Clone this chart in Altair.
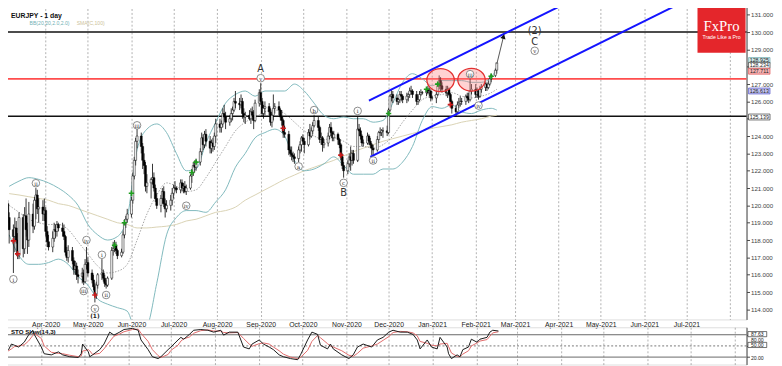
import altair as alt
import pandas as pd

# ---------------- text ----------------
TITLE = "EURJPY - 1 day"
BB_NAME = "BB(20,20,2.0,2.0)"
SMA_NAME = "SMA(C,100)"
STO_NAME = "STO Slow(14,3)"
LOGO_NAME = "FxPro"
LOGO_SLOGAN = "Trade Like a Pro"

# ---------------- daily candles (O H L C), one string per week, Mon..Fri ----------------
first_session = "2020-03-02"
ohlc_weeks = [
    "119.9 120.6 119.2 120.1, 120.1 121.0 119.8 120.4, 120.4 120.6 119.8 120.1, 120.1 120.3 119.0 119.3, 119.3 119.6 117.8 118.6",
    "118.6 118.9 116.1 118.2, 118.2 119.3 117.3 118.7, 118.7 119.1 117.8 118.0, 118.0 118.4 116.9 117.1, 117.1 119.6 116.9 119.3",
    "119.3 119.5 117.0 117.5, 117.5 119.9 117.2 119.4, 119.4 120.4 118.2 118.6, 118.6 119.0 117.2 118.0, 118.0 120.2 117.6 119.5",
    "119.5 120.1 118.4 118.8, 118.8 120.5 118.6 120.3, 120.3 121.0 119.2 120.6, 120.6 120.9 119.5 119.8, 119.8 120.4 119.0 119.9",
    "119.9 120.3 119.1 119.5, 119.5 120.4 119.1 119.7, 119.7 119.9 118.2 118.5, 118.5 118.8 117.6 117.9, 117.9 118.3 117.4 117.6",
    "117.6 118.5 117.3 118.1, 118.1 119.0 117.9 118.6, 118.6 118.9 118.1 118.5, 118.5 119.1 118.2 118.9, 118.9 119.0 118.5 118.7",
    "118.7 119.0 118.2 118.5, 118.5 118.9 118.0 118.2, 118.2 118.3 117.1 117.3, 117.3 117.6 116.8 117.0, 117.0 117.7 116.7 117.4",
    "117.4 117.6 116.6 116.8, 116.8 117.0 116.0 116.3, 116.3 116.8 116.0 116.5, 116.5 116.7 115.7 116.0, 116.0 116.3 115.5 115.9",
    "115.9 116.4 115.5 116.1, 116.1 116.3 115.4 115.6, 115.6 116.9 115.5 116.6, 116.6 117.6 116.3 116.7, 116.7 117.0 115.9 116.1",
    "116.1 116.3 115.5 115.7, 115.7 116.0 115.1 115.3, 115.3 115.5 114.4 114.9, 114.9 115.6 114.6 115.4, 115.4 116.1 115.2 116.0",
    "116.0 116.9 115.7 116.1, 116.1 116.3 115.6 115.8, 115.8 116.0 115.3 115.5, 115.5 115.7 115.2 115.4, 115.4 115.9 115.3 115.8",
    "115.8 117.6 115.7 117.4, 117.4 117.9 117.1 117.5, 117.5 118.0 117.3 117.7, 117.7 117.9 117.2 117.4, 117.4 117.5 116.9 117.1",
    "117.1 117.5 117.0 117.3, 117.3 118.5 117.2 118.3, 118.3 119.2 118.1 119.0, 119.0 119.4 118.7 119.2, 119.2 119.8 119.0 119.5",
    "119.5 120.5 119.3 120.3, 120.3 121.9 120.1 121.7, 121.7 122.8 121.5 122.6, 122.6 123.9 122.3 123.7, 123.7 124.4 123.3 124.0",
    "124.0 124.2 123.0 123.4, 123.4 123.6 122.1 122.6, 122.6 123.0 121.8 122.3, 122.3 122.5 120.8 121.1, 121.1 121.8 120.7 121.3",
    "121.3 121.6 120.4 121.5, 121.5 122.4 121.2 121.6, 121.6 121.9 120.8 121.0, 121.0 121.2 120.2 120.4, 120.4 120.7 119.8 120.0",
    "120.0 120.6 119.6 120.4, 120.4 121.0 120.1 120.8, 120.8 121.1 119.9 120.1, 120.1 120.4 119.3 119.8, 119.8 120.3 119.6 120.0",
    "120.0 120.6 119.7 120.3, 120.3 121.0 120.0 120.7, 120.7 121.2 120.4 121.0, 121.0 121.4 120.8 121.0, 121.0 121.1 120.7 120.9",
    "120.9 121.5 120.7 121.3, 121.3 121.5 120.8 121.0, 121.0 121.3 120.7 121.1, 121.1 121.4 120.7 120.8, 120.8 121.2 120.6 121.0",
    "121.0 121.8 120.9 121.7, 121.7 122.1 121.3 121.9, 121.9 122.5 121.7 122.3, 122.3 122.6 121.9 122.2, 122.2 122.7 122.0 122.5",
    "122.5 123.3 122.3 123.1, 123.1 124.2 122.9 123.9, 123.9 124.1 123.2 123.5, 123.5 124.3 123.3 124.1, 124.1 124.4 123.4 123.7",
    "123.7 124.0 123.0 123.3, 123.3 123.8 123.0 123.6, 123.6 123.9 123.1 123.4, 123.4 124.2 123.2 124.0, 124.0 125.0 123.6 124.7",
    "124.7 125.0 124.2 124.5, 124.5 124.9 124.2 124.7, 124.7 125.6 124.5 125.3, 125.3 125.8 124.9 125.1, 125.1 125.4 124.4 124.8",
    "124.8 125.2 124.6 125.0, 125.0 125.6 124.8 125.3, 125.3 125.7 124.9 125.5, 125.5 126.2 125.4 126.0, 126.0 126.6 125.6 125.9",
    "125.9 126.2 125.5 125.8, 125.8 126.4 125.6 126.0, 126.0 126.2 125.0 125.3, 125.3 125.6 124.8 125.1, 125.1 125.4 124.7 125.2",
    "125.2 125.5 124.9 125.0, 125.0 125.6 124.7 125.4, 125.4 125.7 124.9 125.2, 125.2 125.5 124.4 124.9, 124.9 126.1 124.8 125.9",
    "125.9 126.7 125.7 126.5, 126.5 127.05 125.8 126.0, 126.0 126.2 125.1 125.3, 125.3 125.8 125.0 125.6, 125.6 126.0 125.2 125.7",
    "125.7 125.9 125.2 125.4, 125.4 125.6 124.6 124.8, 124.8 125.3 124.5 125.2, 125.2 126.4 124.9 125.6, 125.6 125.9 125.3 125.7",
    "125.7 126.0 125.2 125.5, 125.5 125.6 124.9 125.1, 125.1 125.5 124.6 124.9, 124.9 125.0 123.9 124.2, 124.2 124.6 123.9 124.1",
    "124.1 124.3 122.9 123.2, 123.2 123.4 122.8 123.0, 123.0 123.4 122.6 122.9, 122.9 123.1 122.5 122.8, 122.8 123.0 122.4 122.7",
    "122.7 123.4 122.5 123.2, 123.2 123.7 123.0 123.5, 123.5 124.0 123.1 123.9, 123.9 124.1 123.5 123.7, 123.7 123.9 123.0 123.5",
    "123.5 124.4 123.4 124.2, 124.2 124.7 123.8 124.0, 124.0 124.5 123.9 124.3, 124.3 124.8 124.1 124.6, 124.6 125.2 124.5 124.9",
    "124.9 125.1 124.3 124.5, 124.5 124.6 123.6 123.8, 123.8 124.2 123.5 123.9, 123.9 124.0 123.1 123.5, 123.5 123.8 123.3 123.6",
    "123.6 124.2 123.4 124.0, 124.0 124.7 123.8 124.5, 124.5 124.8 124.0 124.2, 124.2 124.3 123.7 123.9, 123.9 124.3 123.7 124.1",
    "124.1 124.2 123.5 123.8, 123.8 123.9 123.3 123.5, 123.5 123.6 122.6 122.8, 122.8 123.0 122.1 122.3, 122.3 122.5 121.6 122.0",
    "122.0 122.6 121.8 122.4, 122.4 123.0 122.2 122.8, 122.8 123.4 122.0 122.6, 122.6 123.2 122.3 123.0, 123.0 123.2 122.4 122.6",
    "122.6 125.1 122.5 124.4, 124.4 124.7 124.0 124.3, 124.3 124.5 123.8 124.0, 124.0 124.1 123.4 123.6, 123.6 123.8 123.4 123.6",
    "123.6 124.2 123.5 124.0, 124.0 124.1 123.5 123.7, 123.7 123.9 123.3 123.5, 123.5 123.6 122.9 123.3, 123.3 123.5 122.9 123.2",
    "123.2 124.0 123.1 123.8, 123.8 124.3 123.6 124.2, 124.2 124.5 124.0 124.2, 124.2 124.4 124.0 124.3, 124.3 124.5 123.9 124.3",
    "124.3 124.6 124.0 124.2, 124.2 125.6 124.1 125.5, 125.5 126.4 125.4 126.3, 126.3 126.7 126.0 126.4, 126.4 126.6 125.9 126.2",
    "126.2 126.4 125.8 126.0, 126.0 126.2 125.8 126.1, 126.1 126.6 125.9 126.4, 126.4 126.6 126.0 126.3, 126.3 126.4 125.9 126.1",
    "126.1 126.5 125.9 126.3, 126.3 126.5 126.0 126.4, 126.4 126.8 126.2 126.6, 126.6 126.9 126.4 126.6, 126.6 126.7 126.2 126.4",
    "126.4 126.6 125.8 126.0, 126.0 126.3 125.8 126.1, 126.1 126.6 126.0 126.4, 126.4 126.7 126.3 126.5, 126.5 126.6 126.4 126.5",
    "126.5 126.8 126.3 126.7, 126.7 126.9 126.4 126.5, 126.5 126.8 126.3 126.6, 126.6 126.7 126.0 126.2, 126.2 126.3 126.1 126.2",
    "126.2 126.6 125.9 126.4, 126.4 127.0 126.3 126.9, 126.9 127.5 126.7 127.2, 127.2 127.4 126.6 126.9, 126.9 127.1 126.5 126.7",
    "126.7 126.9 126.3 126.5, 126.5 126.9 126.2 126.7, 126.7 126.8 126.3 126.4, 126.4 126.5 125.8 126.0, 126.0 126.1 125.3 125.6",
    "125.6 125.8 125.1 125.4, 125.4 126.0 125.3 125.8, 125.8 126.2 125.6 125.9, 125.9 126.3 125.7 126.0, 126.0 126.2 125.8 126.0",
    "126.0 126.4 125.8 126.3, 126.3 126.5 126.0 126.2, 126.2 126.5 125.9 126.1, 126.1 127.3 126.0 126.6, 126.6 127.0 126.4 126.7",
    "126.7 127.0 126.2 126.4, 126.4 126.8 126.2 126.6, 126.6 126.7 126.1 126.3, 126.3 126.9 126.2 126.7, 126.7 127.0 126.5 126.8",
    "126.8 127.1 126.6 127.0, 127.0 127.1 126.6 126.8, 126.8 127.2 126.7 127.0, 127.0 127.4 126.9 127.3, 127.3 127.6 127.1 127.5",
    "127.5 127.9 127.4 127.8, 127.8 128.1 127.6 128.23",
]

# ---------------- indicator lines, sampled weekly (Fridays) + last session ----------------
band_first_friday = "2020-03-06"
band_last_date = "2021-02-16"
bb_upper = [121.1, 121.4, 121.6, 121.5, 121.3, 121.0, 120.6, 120.0, 118.9, 118.3,
            118.0, 118.2, 119.3, 123.2, 124.4, 124.7, 124.2, 123.0, 122.0, 122.1,
            123.6, 124.8, 125.9, 126.4, 126.6, 126.3, 126.6, 126.6, 126.6, 127.0,
            126.6, 125.9, 125.2, 125.0, 125.1, 125.0, 125.0, 124.8, 124.9, 125.9,
            127.1, 127.6, 127.3, 126.9, 127.2, 127.2, 127.2, 127.1, 127.1, 127.4, 127.9]
bb_middle = [120.0, 119.6, 119.2, 119.0, 118.9, 118.9, 118.6, 117.9, 117.2, 116.5,
             116.1, 116.2, 116.6, 118.0, 119.5, 120.6, 121.3, 121.1, 120.8, 120.9,
             121.6, 122.5, 123.4, 124.3, 124.8, 125.1, 125.4, 125.5, 125.3, 124.8,
             124.3, 124.0, 123.8, 123.9, 123.7, 123.4, 123.4, 123.3, 123.5, 124.0,
             124.8, 125.5, 126.1, 126.3, 126.4, 126.5, 126.3, 126.2, 126.3, 126.5, 126.7]
bb_lower = [118.3, 117.1, 116.6, 116.6, 116.7, 116.9, 116.6, 115.9, 115.4, 114.6,
            114.3, 114.1, 113.9, 112.6, 113.0, 115.5, 118.3, 119.3, 119.7, 119.7,
            119.6, 120.2, 120.9, 122.2, 123.0, 123.9, 124.2, 124.4, 124.0, 122.6,
            122.0, 122.1, 122.4, 122.8, 122.3, 121.8, 121.8, 121.8, 122.1, 122.1,
            122.5, 123.4, 124.9, 125.7, 125.6, 125.8, 125.4, 125.3, 125.5, 125.6, 125.5]
sma100 = [120.68, 120.6, 120.5, 120.4, 120.3, 120.1, 120.0, 119.8, 119.6, 119.4,
          119.2, 119.0, 118.9, 118.7, 118.7, 118.75, 118.8, 118.9, 119.1, 119.2,
          119.4, 119.6, 119.7, 119.9, 120.3, 120.6, 120.9, 121.2, 121.5, 121.75,
          122.0, 122.2, 122.4, 122.6, 122.85, 123.1, 123.3, 123.5, 123.7, 123.85,
          124.0, 124.15, 124.3, 124.45, 124.55, 124.65, 124.8, 124.9, 125.0, 125.15, 125.2]

# ---------------- stochastic (14,3) ----------------
sto_dates = ["2020-03-05", "2020-03-06", "2020-03-09", "2020-03-11", "2020-03-13", "2020-03-16", "2020-03-20", "2020-03-23", "2020-03-26", "2020-03-27",
             "2020-04-01", "2020-04-03", "2020-04-08", "2020-04-13", "2020-04-16", "2020-04-21", "2020-04-27", "2020-04-29", "2020-04-30", "2020-05-04",
             "2020-05-05", "2020-05-07", "2020-05-12", "2020-05-15", "2020-05-19", "2020-05-22", "2020-05-26", "2020-05-29", "2020-06-04", "2020-06-08",
             "2020-06-10", "2020-06-15", "2020-06-18", "2020-06-22", "2020-06-24", "2020-06-29", "2020-07-01", "2020-07-06", "2020-07-08", "2020-07-10",
             "2020-07-14", "2020-07-17", "2020-07-22", "2020-07-27", "2020-07-31", "2020-08-05", "2020-08-07", "2020-08-11", "2020-08-17", "2020-08-21",
             "2020-08-25", "2020-08-27", "2020-09-01", "2020-09-04", "2020-09-08", "2020-09-11", "2020-09-15", "2020-09-18", "2020-09-23", "2020-09-28",
             "2020-09-30", "2020-10-05", "2020-10-08", "2020-10-12", "2020-10-14", "2020-10-19", "2020-10-21", "2020-10-23", "2020-10-29", "2020-11-03",
             "2020-11-06", "2020-11-09", "2020-11-13", "2020-11-19", "2020-11-23", "2020-11-27", "2020-12-01", "2020-12-04", "2020-12-09", "2020-12-14",
             "2020-12-18", "2020-12-21", "2020-12-23", "2020-12-28", "2020-12-31", "2021-01-04", "2021-01-06", "2021-01-11", "2021-01-12", "2021-01-14",
             "2021-01-18", "2021-01-20", "2021-01-22", "2021-01-26", "2021-01-28", "2021-02-01", "2021-02-03", "2021-02-08", "2021-02-10", "2021-02-12", "2021-02-16"]
sto_k = [47, 29, 40, 55, 52, 47, 60, 79, 92, 81,
         47, 29, 26, 34, 26, 21, 19, 29, 55, 34,
         21, 26, 40, 55, 87, 79, 87, 94, 97, 92,
         66, 40, 21, 16, 21, 40, 47, 66, 73, 68,
         81, 92, 94, 92, 87, 92, 79, 87, 87, 47,
         42, 55, 66, 55, 47, 40, 26, 21, 16, 13,
         26, 66, 87, 81, 52, 42, 55, 42, 26, 16,
         26, 47, 55, 47, 66, 73, 87, 92, 87, 87,
         81, 66, 42, 66, 47, 42, 73, 47, 29, 16,
         26, 21, 40, 47, 68, 60, 68, 73, 87, 92, 90]
sto_d = [50, 42, 37, 42, 48, 50, 53, 63, 78, 84,
         70, 50, 33, 30, 29, 25, 21, 23, 36, 40,
         37, 27, 30, 42, 62, 76, 82, 88, 94, 95,
         84, 62, 40, 24, 19, 27, 38, 52, 63, 69,
         74, 84, 91, 93, 90, 90, 86, 85, 86, 70,
         55, 49, 56, 58, 55, 47, 37, 28, 20, 16,
         19, 38, 62, 78, 72, 56, 50, 47, 37, 25,
         22, 30, 44, 50, 55, 65, 75, 86, 89, 88,
         85, 77, 62, 57, 52, 50, 55, 57, 48, 31,
         22, 21, 28, 37, 50, 58, 63, 67, 76, 85, 88]
sto_levels = [80, 50, 20]
sto_tag_text = ["87.63", "80.00", "50.00", "20.00"]
sto_tag_value = [81.6, 66.0, 52.6, 18.4]
sto_tag_boxed = [True, False, True, False]

# ---------------- drawn levels and channel ----------------
black_levels = [130.0, 125.139]
red_levels = [127.3]
channel_id = ["upper", "upper", "lower", "lower"]
channel_dates = ["2020-11-17", "2021-05-01", "2020-11-18", "2021-08-09"]
channel_prices = [126.04, 132.66, 122.8, 133.4]

# ---------------- wave labels ----------------
wave_dates = ["2020-03-09", "2020-03-25", "2020-04-28", "2020-04-30", "2020-05-06", "2020-05-11", "2020-05-14",
              "2020-06-05", "2020-07-10", "2020-09-01", "2020-09-28", "2020-10-09", "2020-10-30", "2020-11-09",
              "2020-11-20", "2021-01-28", "2021-02-03", "2021-03-15"]
wave_prices = [115.74, 121.28, 115.06, 118.0, 114.04, 117.15, 114.83,
               124.62, 119.98, 127.34, 122.25, 125.5, 121.3, 125.45,
               122.59, 127.57, 125.76, 128.92]
wave_text = ["i", "ii", "iii", "iv", "v", "i", "ii",
             "iii", "iv", "v", "a", "b", "c", "i",
             "ii", "iii", "iv", "v"]
letter_dates = ["2020-09-01", "2020-10-30", "2021-03-15", "2021-03-15"]
letter_prices = [127.85, 120.72, 129.43, 130.06]
letter_text = ["A", "B", "C", "(2)"]
small_dates = ["2020-05-06"]
small_prices = [113.62]
small_text = ["(1)"]

# ---------------- signal crosses, highlight ellipses, arrow ----------------
green_dates = ["2020-05-20", "2020-05-27", "2020-06-01", "2020-07-14", "2020-07-17", "2020-12-01", "2020-12-28", "2021-01-05", "2021-02-12"]
green_prices = [117.7, 119.0, 120.7, 121.9, 122.5, 125.3, 126.7, 127.0, 127.45]
red_dates = ["2020-03-09", "2020-03-12", "2020-05-06", "2020-09-17", "2020-10-28", "2021-01-14"]
red_prices = [117.95, 117.2, 114.83, 124.45, 122.9, 125.81]
ellipse_dates = ["2021-01-07", "2021-01-29"]
ellipse_prices = [127.23, 127.25]
arrow_dates = ["2021-02-16T00:00:00", "2021-02-20T20:00:00"]
arrow_prices = [128.15, 129.75]

# ---------------- price tags on the right axis ----------------
tag_text = ["128.925", "128.234", "127.711", "126.613", "125.139"]
tag_price = [128.36, 128.08, 127.74, 126.6, 125.1]
tag_fill = ["#cfe8e8", "#ffffff", "#f6b3b3", "#c6c6f3", "#ffffff"]
tag_stroke = ["#6aa9ad", "#333333", "#e05050", "#5050c8", "#333333"]

price_ticks = list(range(114, 132))
hidden_tick_labels = [125, 128]

# ================= build frames =================
rows = [tuple(float(v) for v in c.split()) for w in ohlc_weeks for c in w.split(",")]
candles = pd.DataFrame(rows, columns=["open", "high", "low", "close"])
candles["date"] = pd.bdate_range(first_session, periods=len(rows))

band_dates = list(pd.date_range(band_first_friday, periods=len(bb_upper) - 1, freq="7D")) + [pd.Timestamp(band_last_date)]
bands = pd.DataFrame({"date": band_dates, "up": bb_upper, "mid": bb_middle, "low": bb_lower, "sma": sma100})


def D(values):
    return pd.to_datetime(values, format="ISO8601")


sto = pd.DataFrame({"date": D(sto_dates), "k": sto_k, "d": sto_d})
ch = pd.DataFrame({"id": channel_id, "date": D(channel_dates), "p": channel_prices})
waves = pd.DataFrame({"date": D(wave_dates), "p": wave_prices, "t": wave_text})
letters = pd.DataFrame({"date": D(letter_dates), "p": letter_prices, "t": letter_text})
smalls = pd.DataFrame({"date": D(small_dates), "p": small_prices, "t": small_text})
greens = pd.DataFrame({"date": D(green_dates), "p": green_prices})
reds = pd.DataFrame({"date": D(red_dates), "p": red_prices})
ells = pd.DataFrame({"date": D(ellipse_dates), "p": ellipse_prices})
arrow = pd.DataFrame({"date": D(arrow_dates), "p": arrow_prices})
tags = pd.DataFrame({"p": tag_price, "t": tag_text, "fill": tag_fill, "stroke": tag_stroke})
blk = pd.DataFrame({"p": black_levels})
rdl = pd.DataFrame({"p": red_levels})
one = pd.DataFrame({"a": [0]})

# ================= scales / axes =================
FONT = "Liberation Sans"
months = [alt.DateTime(year=2020 + (m - 1) // 12, month=(m - 1) % 12 + 1, date=1) for m in range(4, 21)]
xscale = alt.Scale(domain=[alt.DateTime(year=2020, month=3, date=4, hours=11),
                           alt.DateTime(year=2021, month=8, date=9, hours=6)])
yscale = alt.Scale(domain=[113.42, 131.585], nice=False, zero=False)
xaxis = alt.Axis(values=months, grid=True, gridDash=[2, 2], gridColor="#9c9c9c", gridWidth=0.8,
                 ticks=False, domain=False, labelFontSize=7, labelColor="#222", labelPadding=1,
                 labelFont=FONT, title=None, labelFlush=False, labelOverlap=False,
                 labelExpr="datum.value >= datetime(2021, 6, 20) ? '' : timeFormat(datum.value, '%b-%Y')")
hidden_expr = " || ".join(f"datum.value == {v}" for v in hidden_tick_labels)
yaxis = alt.Axis(orient="right", values=price_ticks, grid=False, tickSize=3,
                 tickColor="#444", domainColor="#444", labelFontSize=6.3, labelColor="#444",
                 labelFont=FONT, labelPadding=1, title=None,
                 labelExpr=f"({hidden_expr}) ? '' : format(datum.value, '.3f')")


def X(field="date"):
    return alt.X(f"{field}:T", scale=xscale, axis=xaxis)


def Y(field="p"):
    return alt.Y(f"{field}:Q", scale=yscale, axis=yaxis)


# ================= main panel layers =================
lv_black = alt.Chart(blk).mark_rule(color="#111", strokeWidth=1.6).encode(y=Y())
lv_red = alt.Chart(rdl).mark_rule(color="#ff4d4d", strokeWidth=2).encode(y=Y())

band_up = alt.Chart(bands).mark_line(color="#80b9bd", strokeWidth=1, interpolate="monotone", clip=True).encode(x=X(), y=Y("up"))
band_lo = alt.Chart(bands).mark_line(color="#80b9bd", strokeWidth=1, interpolate="monotone", clip=True).encode(x=X(), y=Y("low"))
band_mid = alt.Chart(bands).mark_line(color="#8c8c8c", strokeWidth=0.8, strokeDash=[1.5, 1.5], interpolate="monotone", clip=True).encode(x=X(), y=Y("mid"))
sma_line = alt.Chart(bands).mark_line(color="#d9d2b4", strokeWidth=1, interpolate="monotone", clip=True).encode(x=X(), y=Y("sma"))

wicks = alt.Chart(candles).mark_rule(color="#000", strokeWidth=0.8, clip=True).encode(x=X(), y=Y("low"), y2="high")
bodies = alt.Chart(candles).mark_bar(size=2, clip=True, stroke="#000", strokeWidth=0.5).encode(
    x=X(), y=Y("open"), y2="close",
    color=alt.condition("datum.close >= datum.open", alt.value("#ffffff"), alt.value("#000000")))

channels = alt.Chart(ch).mark_line(color="#1414ff", strokeWidth=2, clip=True).encode(x=X(), y=Y(), detail="id:N")

ELLIPSE = "M -1.2 0 A 1.2 1 0 1 0 1.2 0 A 1.2 1 0 1 0 -1.2 0 Z"
ellipses = alt.Chart(ells).mark_point(shape=ELLIPSE, size=544, filled=True, fill="#ff7f7f", fillOpacity=0.35,
                                      stroke="#e33030", strokeWidth=1.3, strokeOpacity=1).encode(x=X(), y=Y())

CROSS = "M -1 0 L 1 0 M 0 -1 L 0 1"
gcross = alt.Chart(greens).mark_point(shape=CROSS, size=30, filled=False, strokeWidth=1.7, color="#1e9e1e", opacity=1).encode(x=X(), y=Y())
rcross = alt.Chart(reds).mark_point(shape=CROSS, size=30, filled=False, strokeWidth=1.7, color="#cc1a1a", opacity=1).encode(x=X(), y=Y())

arrow_line = alt.Chart(arrow).mark_line(color="#555", strokeWidth=1).encode(x=X(), y=Y())
arrow_head = alt.Chart(arrow.tail(1)).mark_point(shape="triangle-up", size=30, filled=True, color="#111", angle=16, opacity=1).encode(x=X(), y=Y())

wave_circ = alt.Chart(waves).mark_point(shape="circle", size=60, filled=True, fill="#ffffff", stroke="#6e6e6e", strokeWidth=0.8, opacity=1).encode(x=X(), y=Y())
wave_txt = alt.Chart(waves).mark_text(font="DejaVu Serif", fontSize=5.5, color="#222", baseline="middle", dy=0.5).encode(x=X(), y=Y(), text="t:N")
letter_txt = alt.Chart(letters).mark_text(font="DejaVu Sans", fontSize=10, color="#333", baseline="middle").encode(x=X(), y=Y(), text="t:N")
small_txt = alt.Chart(smalls).mark_text(font="DejaVu Sans", fontSize=6, fontWeight="bold", color="#222", baseline="middle").encode(x=X(), y=Y(), text="t:N")

TAG = "M -1.75 -0.48 L 1.75 -0.48 L 1.75 0.48 L -1.75 0.48 Z"
tag_box = alt.Chart(tags).mark_point(shape=TAG, size=156, filled=True, strokeWidth=0.7, opacity=1).encode(
    x=alt.value(772), y=Y(), fill=alt.Fill("fill:N", scale=None), stroke=alt.Stroke("stroke:N", scale=None))
tag_txt = alt.Chart(tags).mark_text(font=FONT, fontSize=5.4, color="#222", baseline="middle", align="center").encode(
    x=alt.value(772), y=Y(), text="t:N")

logo_box = alt.Chart(one).mark_rect(color="#e4262b").encode(x=alt.value(709), x2=alt.value(758), y=alt.value(0), y2=alt.value(49))
logo_txt = alt.Chart(one).mark_text(text=LOGO_NAME, font="Liberation Serif", fontSize=15, color="#ffffff", baseline="middle").encode(
    x=alt.value(733.5), y=alt.value(22))
logo_sub = alt.Chart(one).mark_text(text=LOGO_SLOGAN, font=FONT, fontSize=5.3, color="#ffffff", baseline="middle").encode(
    x=alt.value(733.5), y=alt.value(33))

title_txt = alt.Chart(one).mark_text(text=TITLE, font=FONT, fontSize=7, fontWeight="bold", color="#111", align="left", baseline="middle").encode(
    x=alt.value(9), y=alt.value(12))
bb_txt = alt.Chart(one).mark_text(text=BB_NAME, font=FONT, fontSize=5.2, color="#6fb0b4", align="left", baseline="middle").encode(
    x=alt.value(28), y=alt.value(19))
sma_txt = alt.Chart(one).mark_text(text=SMA_NAME, font=FONT, fontSize=5.2, color="#cdc39a", align="left", baseline="middle").encode(
    x=alt.value(76), y=alt.value(19))

main = alt.layer(
    lv_black, lv_red, sma_line, band_up, band_lo, band_mid, wicks, bodies, channels, ellipses,
    gcross, rcross, arrow_line, arrow_head, wave_circ, wave_txt, letter_txt, small_txt,
    tag_box, tag_txt, logo_box, logo_txt, logo_sub, title_txt, bb_txt, sma_txt,
).properties(width=759, height=321)

# ================= stochastic panel =================
sto_yscale = alt.Scale(domain=[0, 100], nice=False, zero=False)
sto_xaxis = alt.Axis(values=months, grid=True, gridDash=[2, 2], gridColor="#9c9c9c", gridWidth=0.8,
                     ticks=False, domain=False, labels=False, title=None)
sto_yaxis = alt.Axis(orient="right", values=sto_levels, labels=False, tickSize=3, tickColor="#444",
                     domainColor="#444", grid=False, title=None)


def SX():
    return alt.X("date:T", scale=xscale, axis=sto_xaxis)


def SY(field):
    return alt.Y(f"{field}:Q", scale=sto_yscale, axis=sto_yaxis)


sto_lv = pd.DataFrame({"v": sto_levels, "dashed": [False, True, False]})
sto_solid = alt.Chart(sto_lv[~sto_lv["dashed"]]).mark_rule(color="#555", strokeWidth=0.9).encode(y=SY("v"))
sto_dash = alt.Chart(sto_lv[sto_lv["dashed"]]).mark_rule(color="#666", strokeWidth=0.9, strokeDash=[2, 2]).encode(y=SY("v"))
sto_dl = alt.Chart(sto).mark_line(color="#e06a6a", strokeWidth=1, clip=True).encode(x=SX(), y=SY("d"))
sto_kl = alt.Chart(sto).mark_line(color="#1a1a1a", strokeWidth=1, clip=True).encode(x=SX(), y=SY("k"))
sto_name = alt.Chart(one).mark_text(text=STO_NAME, font=FONT, fontSize=6.3, fontWeight="bold", color="#111", align="left", baseline="middle").encode(
    x=alt.value(9), y=alt.value(5))
stags = pd.DataFrame({"v": sto_tag_value, "t": sto_tag_text, "boxed": sto_tag_boxed})
sto_box = alt.Chart(stags[stags["boxed"]]).mark_point(shape=TAG, size=120, filled=True, fill="#ffffff", stroke="#333", strokeWidth=0.7, opacity=1).encode(
    x=alt.value(770), y=SY("v"))
sto_txt = alt.Chart(stags).mark_text(font=FONT, fontSize=5.2, color="#222", baseline="middle", align="center").encode(
    x=alt.value(770), y=SY("v"), text="t:N")

sto_panel = alt.layer(sto_solid, sto_dash, sto_dl, sto_kl, sto_name, sto_box, sto_txt).properties(width=759, height=38)

chart = alt.vconcat(main, sto_panel, spacing=8, bounds="flush").properties(
    padding={"left": -8, "top": -8, "right": 0, "bottom": 0}
).configure_view(stroke="#3c3c3c", strokeWidth=1).configure(background="#ffffff")

chart.save("out.html", embed_options={"renderer": "svg", "actions": False})
